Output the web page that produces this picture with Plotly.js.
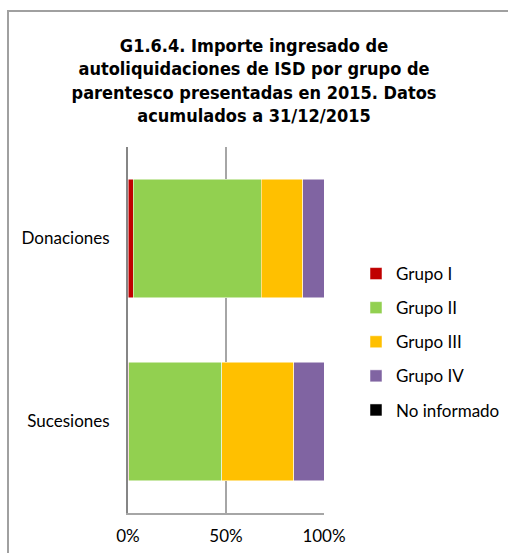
<!DOCTYPE html>
<html>
<head>
<meta charset="utf-8">
<script src="https://cdn.plot.ly/plotly-3.0.1.min.js"></script>
<style>
html,body{margin:0;padding:0;background:#fff;}
#wrap{position:relative;width:508px;height:553px;overflow:hidden;}
#chart{position:absolute;left:0;top:0;width:508px;height:553px;}
#frame{position:absolute;left:7px;top:10px;width:600px;height:600px;border-left:2px solid #a0a0a0;border-top:2px solid #a0a0a0;pointer-events:none;}
</style>
</head>
<body>
<div id="wrap"><div id="chart"></div><div id="frame"></div></div>
<script>
var categories = ['Donaciones', 'Sucesiones'];
var seriesNames = ['Grupo I', 'Grupo II', 'Grupo III', 'Grupo IV', 'No informado'];
var grupoI = [2.6, 0.5];
var grupoII = [65.4, 47.4];
var grupoIII = [21.1, 36.6];
var grupoIV = [10.9, 15.5];
var noInformado = [0, 0];
var tickVals = [0, 50, 100];
var tickText = ['0%', '50%', '100%'];

var colors = ['#c00000', '#92d050', '#ffc000', '#8064a2', '#000000'];
var values = [grupoI, grupoII, grupoIII, grupoIV, noInformado];

var traces = seriesNames.map(function (name, i) {
  return {
    type: 'bar',
    orientation: 'h',
    name: name,
    y: categories,
    x: values[i],
    legendgroup: 'g' + i,
    marker: {color: colors[i], line: {color: '#ffffff', width: 0.5}},
    hoverinfo: 'x+y+name'
  };
});

var layout = {
  width: 508,
  height: 553,
  margin: {l: 128, r: 184, t: 147, b: 40, autoexpand: false},
  paper_bgcolor: '#ffffff',
  plot_bgcolor: '#ffffff',
  barmode: 'stack',
  bargap: 0.355,
  font: {family: 'Lato, Liberation Sans, Arial, sans-serif', size: 17, color: '#000000'},
  title: {
    text: '<b>G1.6.4. Importe ingresado de<br>autoliquidaciones de ISD por grupo de<br>parentesco presentadas en 2015. Datos<br>acumulados a 31/12/2015</b>',
    font: {family: 'Liberation Sans Narrow, DejaVu Sans Condensed, sans-serif', size: 18, color: '#000000'},
    x: 0.5,
    xref: 'container',
    xanchor: 'center',
    y: 1 - 52 / 553,
    yref: 'container',
    yanchor: 'top'
  },
  xaxis: {
    range: [0, 100],
    tickvals: tickVals,
    ticktext: tickText,
    showgrid: true,
    gridcolor: '#a6a6a6',
    gridwidth: 1.5,
    zeroline: false,
    showline: true,
    linecolor: '#a6a6a6',
    linewidth: 2,
    ticks: '',
    ticklabelstandoff: 7,
    fixedrange: true
  },
  yaxis: {
    type: 'category',
    autorange: 'reversed',
    showline: true,
    linecolor: '#868686',
    linewidth: 2,
    ticks: '',
    ticklabelstandoff: 13,
    showgrid: false,
    zeroline: false,
    fixedrange: true
  },
  legend: {
    xref: 'container',
    yref: 'container',
    x: 356 / 508,
    xanchor: 'left',
    y: 1 - 256 / 553,
    yanchor: 'top',
    traceorder: 'grouped',
    tracegroupgap: 9,
    font: {family: 'Lato, Liberation Sans, Arial, sans-serif', size: 17, color: '#000000'},
    itemwidth: 30,
    bgcolor: 'rgba(0,0,0,0)'
  },
  showlegend: true
};

Plotly.newPlot('chart', traces, layout, {displayModeBar: false, staticPlot: true});
</script>
</body>
</html>
